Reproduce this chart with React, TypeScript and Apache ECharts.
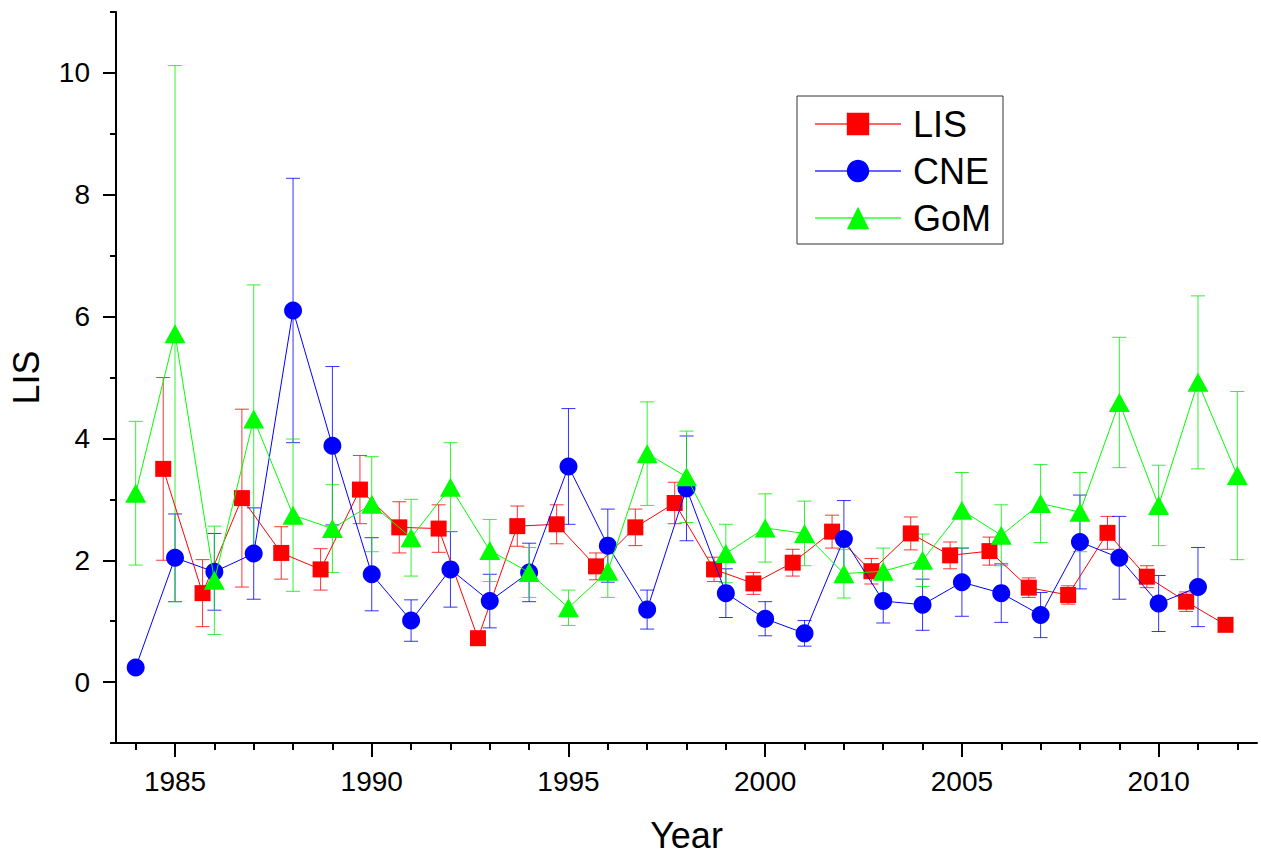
import React, { useEffect, useRef } from "react";
import * as echarts from "echarts";

const lisYears = [1985, 1986, 1987, 1988, 1989, 1990, 1991, 1992, 1993, 1994, 1995, 1996, 1997, 1998, 1999, 2000, 2001, 2002, 2003, 2004, 2005, 2006, 2007, 2008, 2009, 2010, 2011, 2012];
const lisValues = [3.5, 1.46, 3.02, 2.12, 1.85, 3.16, 2.54, 2.52, 0.72, 2.56, 2.59, 1.9, 2.54, 2.94, 1.85, 1.62, 1.96, 2.47, 1.82, 2.44, 2.08, 2.15, 1.55, 1.43, 2.45, 1.73, 1.32, 0.94];
const lisErr = [1.5, 0.55, 1.46, 0.43, 0.34, 0.56, 0.42, 0.39, null, 0.33, 0.32, 0.22, 0.3, 0.34, 0.2, 0.18, 0.22, 0.27, 0.21, 0.27, 0.22, 0.23, 0.16, 0.15, 0.27, 0.18, 0.16, null];

const cneYears = [1984, 1985, 1986, 1987, 1988, 1989, 1990, 1991, 1992, 1993, 1994, 1995, 1996, 1997, 1998, 1999, 2000, 2001, 2002, 2003, 2004, 2005, 2006, 2007, 2008, 2009, 2010, 2011];
const cneValues = [0.24, 2.04, 1.81, 2.11, 6.1, 3.88, 1.77, 1.01, 1.85, 1.33, 1.8, 3.54, 2.24, 1.19, 3.18, 1.46, 1.04, 0.8, 2.35, 1.33, 1.27, 1.64, 1.46, 1.1, 2.3, 2.04, 1.29, 1.56];
const cneErr = [null, 0.72, 0.63, 0.75, 2.17, 1.3, 0.6, 0.34, 0.62, 0.44, 0.48, 0.95, 0.6, 0.32, 0.86, 0.4, 0.28, 0.21, 0.63, 0.36, 0.42, 0.56, 0.48, 0.37, 0.77, 0.68, 0.46, 0.65];

const gomYears = [1984, 1985, 1986, 1987, 1988, 1989, 1990, 1991, 1992, 1993, 1994, 1995, 1996, 1997, 1998, 1999, 2000, 2001, 2002, 2003, 2004, 2005, 2006, 2007, 2008, 2009, 2010, 2011, 2012];
const gomValues = [3.1, 5.72, 1.67, 4.32, 2.74, 2.52, 2.92, 2.37, 3.2, 2.16, 1.8, 1.22, 1.82, 3.75, 3.37, 2.11, 2.53, 2.44, 1.78, 1.82, 2.0, 2.82, 2.41, 2.93, 2.79, 4.59, 2.9, 4.92, 3.39];
const gomErr = [1.18, 4.4, 0.89, 2.2, 1.25, 0.72, 0.78, 0.63, 0.73, 0.51, 0.41, 0.29, 0.43, 0.85, 0.75, 0.48, 0.56, 0.53, 0.4, 0.38, 0.43, 0.62, 0.5, 0.64, 0.65, 1.07, 0.66, 1.42, 1.38];

const xMajorTicks = [1985, 1990, 1995, 2000, 2005, 2010];
const xMinorTicks = [1984, 1985, 1986, 1987, 1988, 1989, 1990, 1991, 1992, 1993, 1994, 1995, 1996, 1997, 1998, 1999, 2000, 2001, 2002, 2003, 2004, 2005, 2006, 2007, 2008, 2009, 2010, 2011, 2012];
const yMajorTicks = [0, 2, 4, 6, 8, 10];
const yMinorTicks = [-1, 1, 3, 5, 7, 9, 11];

const LIS_OFFSET = -0.3;
const FONT = "'Liberation Sans', Arial, sans-serif";

function points(years: number[], values: number[], offset: number) {
  return years.map((y, i) => [y + offset, values[i]]);
}
function errs(years: number[], values: number[], err: (number | null)[], offset: number) {
  const out: number[][] = [];
  years.forEach((y, i) => {
    const e = err[i];
    if (e != null) out.push([y + offset, values[i] - e, values[i] + e]);
  });
  return out;
}

function errorSeries(data: number[][], color: string) {
  return {
    type: "custom",
    xAxisIndex: 0,
    yAxisIndex: 0,
    silent: true,
    encode: { x: 0, y: [1, 2] },
    data,
    z: 1,
    renderItem: (params: any, api: any) => {
      const x = api.value(0);
      const lo = api.coord([x, api.value(1)]);
      const hi = api.coord([x, api.value(2)]);
      const half = 7;
      const style = { stroke: color, lineWidth: 1, opacity: 0.8 };
      return {
        type: "group",
        children: [
          { type: "line", shape: { x1: lo[0], y1: lo[1], x2: hi[0], y2: hi[1] }, style },
          { type: "line", shape: { x1: hi[0] - half, y1: hi[1], x2: hi[0] + half, y2: hi[1] }, style },
          { type: "line", shape: { x1: lo[0] - half, y1: lo[1], x2: lo[0] + half, y2: lo[1] }, style },
        ],
      };
    },
  };
}

export default function App() {
  const ref = useRef<HTMLDivElement>(null);
  useEffect(() => {
    document.body.style.margin = "0";
    const chart = echarts.init(ref.current!, null, { renderer: "svg" });
    const axisCommon = {
      type: "value",
      splitLine: { show: false },
    };
    chart.setOption({
      animation: false,
      backgroundColor: "#ffffff",
      grid: { left: 116, right: 4, top: 12, bottom: 114, containLabel: false },
      xAxis: [
        {
          ...axisCommon,
          min: 1983.5,
          max: 2012.5,
          position: "bottom",
          name: "Year",
          nameLocation: "middle",
          nameGap: 74,
          nameTextStyle: { fontFamily: FONT, fontSize: 36, color: "#000" },
          axisLine: { show: true, onZero: false, lineStyle: { color: "#000", width: 2 } },
          axisTick: { show: true, customValues: xMajorTicks, length: 14, lineStyle: { color: "#000", width: 2 } },
          axisLabel: { customValues: xMajorTicks, formatter: (v: number) => String(v), fontFamily: FONT, fontSize: 28, color: "#000", margin: 24 },
        },
        {
          ...axisCommon,
          min: 1983.5,
          max: 2012.5,
          position: "bottom",
          axisLine: { show: false, onZero: false },
          axisTick: { show: true, customValues: xMinorTicks, length: 7, lineStyle: { color: "#000", width: 2 } },
          axisLabel: { show: false },
        },
      ],
      yAxis: [
        {
          ...axisCommon,
          min: -1,
          max: 11,
          position: "left",
          name: "LIS",
          nameLocation: "middle",
          nameGap: 72,
          nameTextStyle: { fontFamily: FONT, fontSize: 36, color: "#000" },
          axisLine: { show: true, onZero: false, lineStyle: { color: "#000", width: 2 } },
          axisTick: { show: true, customValues: yMajorTicks, length: 13, lineStyle: { color: "#000", width: 2 } },
          axisLabel: { customValues: yMajorTicks, fontFamily: FONT, fontSize: 28, color: "#000", margin: 26 },
        },
        {
          ...axisCommon,
          min: -1,
          max: 11,
          position: "left",
          axisLine: { show: false, onZero: false },
          axisTick: { show: true, customValues: yMinorTicks, length: 6, lineStyle: { color: "#000", width: 2 } },
          axisLabel: { show: false },
        },
      ],
      legend: {
        show: true,
        orient: "vertical",
        left: 797,
        top: 96,
        selectedMode: false,
        backgroundColor: "#fff",
        borderColor: "#333",
        borderWidth: 1,
        padding: [10, 12, 8, 17],
        itemWidth: 86,
        itemHeight: 28,
        itemGap: 11,
        lineStyle: { opacity: 0.6 },
        textStyle: { fontFamily: FONT, fontSize: 36, color: "#000", padding: [0, 0, 0, 7] },
        data: ["LIS", "CNE", "GoM"],
      },
      series: [
        errorSeries(errs(lisYears, lisValues, lisErr, LIS_OFFSET), "#ff0000"),
        errorSeries(errs(cneYears, cneValues, cneErr, 0), "#0000ff"),
        errorSeries(errs(gomYears, gomValues, gomErr, 0), "#00ee00"),
        {
          name: "LIS",
          type: "line",
          xAxisIndex: 0,
          yAxisIndex: 0,
          data: points(lisYears, lisValues, LIS_OFFSET),
          symbol: "rect",
          symbolSize: 16,
          itemStyle: { color: "#ff0000" },
          lineStyle: { color: "#ff0000", width: 1 },
          z: 2,
        },
        {
          name: "CNE",
          type: "line",
          xAxisIndex: 0,
          yAxisIndex: 0,
          data: points(cneYears, cneValues, 0),
          symbol: "circle",
          symbolSize: 18,
          itemStyle: { color: "#0000ff" },
          lineStyle: { color: "#0000ff", width: 1 },
          z: 3,
        },
        {
          name: "GoM",
          type: "line",
          xAxisIndex: 0,
          yAxisIndex: 0,
          data: points(gomYears, gomValues, 0),
          symbol: "triangle",
          symbolSize: [21, 19],
          itemStyle: { color: "#00ff00" },
          lineStyle: { color: "#00ff00", width: 1 },
          z: 4,
        },
      ],
    });
    return () => chart.dispose();
  }, []);
  return <div ref={ref} style={{ width: 1261, height: 858 }} />;
}
